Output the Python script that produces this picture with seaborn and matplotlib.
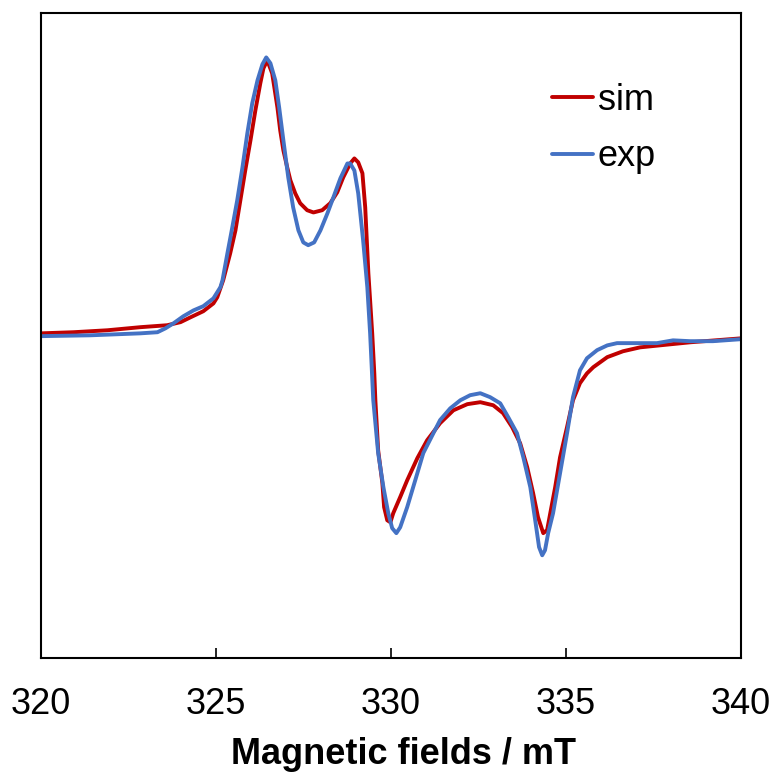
import numpy as np
import pandas as pd
import matplotlib
matplotlib.use("Agg")
import matplotlib.pyplot as plt
import seaborn as sns

# Simulated spectrum (field in mT, intensity in arbitrary units)
sim_field = [320.0, 320.93, 321.9, 322.84, 323.61, 323.99, 324.27, 324.64,
             324.93, 325.04, 325.21, 325.41, 325.56, 325.7, 325.84, 325.99,
             326.13, 326.27, 326.36, 326.47, 326.61, 326.76, 326.84, 326.93,
             327.04, 327.13, 327.27, 327.41, 327.61, 327.79, 328.04, 328.27,
             328.47, 328.64, 328.84, 328.96, 329.07, 329.19, 329.27, 329.36,
             329.41, 329.47, 329.53, 329.56, 329.64, 329.76, 329.81, 329.9,
             329.99, 330.07, 330.27, 330.47, 330.76, 331.04, 331.41, 331.79,
             332.19, 332.56, 332.93, 333.21, 333.47, 333.7, 333.9, 334.07,
             334.21, 334.36, 334.47, 334.56, 334.7, 334.84, 335.04, 335.21,
             335.41, 335.61, 335.79, 336.19, 336.64, 337.13, 338.56, 340.0]
sim_int = [0.014, 0.018, 0.025, 0.036, 0.043, 0.054, 0.071, 0.093,
           0.121, 0.143, 0.204, 0.300, 0.382, 0.489, 0.596, 0.704,
           0.811, 0.907, 0.961, 0.989, 0.943, 0.821, 0.739, 0.668,
           0.607, 0.561, 0.514, 0.479, 0.454, 0.446, 0.454, 0.479,
           0.518, 0.571, 0.621, 0.639, 0.625, 0.586, 0.464, 0.229,
           0.132, 0.014, -0.129, -0.225, -0.404, -0.521, -0.607, -0.654,
           -0.661, -0.629, -0.571, -0.511, -0.432, -0.368, -0.307, -0.261,
           -0.239, -0.232, -0.243, -0.271, -0.321, -0.379, -0.464, -0.557,
           -0.643, -0.700, -0.689, -0.629, -0.536, -0.429, -0.321, -0.225,
           -0.164, -0.129, -0.107, -0.071, -0.050, -0.036, -0.018, -0.004]

# Experimental spectrum
exp_field = [320.0, 321.41, 322.84, 323.33, 323.56, 323.79, 324.07, 324.36,
             324.64, 324.93, 325.13, 325.19, 325.33, 325.47, 325.61, 325.76,
             325.9, 326.04, 326.19, 326.33, 326.44, 326.56, 326.7, 326.81,
             326.93, 327.07, 327.21, 327.36, 327.5, 327.64, 327.81, 327.99,
             328.19, 328.36, 328.56, 328.76, 328.84, 328.96, 329.07, 329.21,
             329.33, 329.41, 329.5, 329.64, 329.79, 329.93, 330.04, 330.16,
             330.27, 330.47, 330.7, 330.93, 331.19, 331.41, 331.7, 331.99,
             332.27, 332.56, 332.84, 333.13, 333.36, 333.61, 333.79, 333.99,
             334.13, 334.24, 334.33, 334.41, 334.5, 334.64, 334.84, 335.04,
             335.21, 335.41, 335.61, 335.9, 336.19, 336.47, 336.93, 337.33,
             337.61, 338.07, 338.56, 339.21, 340.0]
exp_int = [0.004, 0.007, 0.014, 0.018, 0.032, 0.050, 0.075, 0.096,
           0.111, 0.139, 0.179, 0.204, 0.300, 0.393, 0.489, 0.607,
           0.729, 0.836, 0.918, 0.975, 1.000, 0.979, 0.918, 0.821,
           0.704, 0.571, 0.464, 0.382, 0.339, 0.329, 0.339, 0.382,
           0.443, 0.500, 0.568, 0.621, 0.621, 0.596, 0.514, 0.346,
           0.179, 0.014, -0.225, -0.414, -0.536, -0.629, -0.682, -0.700,
           -0.679, -0.607, -0.511, -0.414, -0.350, -0.296, -0.254, -0.225,
           -0.207, -0.200, -0.214, -0.236, -0.286, -0.343, -0.429, -0.536,
           -0.654, -0.750, -0.779, -0.761, -0.700, -0.629, -0.486, -0.343,
           -0.214, -0.118, -0.075, -0.046, -0.029, -0.021, -0.021, -0.021,
           -0.021, -0.011, -0.014, -0.014, -0.007]

df = pd.concat([
    pd.DataFrame({"field": sim_field, "intensity": sim_int, "series": "sim"}),
    pd.DataFrame({"field": exp_field, "intensity": exp_int, "series": "exp"}),
])

sns.set_theme(style="white")
plt.rcParams["font.family"] = ["Liberation Sans", "DejaVu Sans"]

fig = plt.figure(figsize=(7.76, 7.74), dpi=100)
ax = fig.add_axes([0.0528, 0.1499, 0.9015, 0.8327])

sns.lineplot(data=df, x="field", y="intensity", hue="series",
             palette={"sim": "#C00000", "exp": "#4472C4"},
             estimator=None, sort=False, linewidth=2.8, ax=ax, legend=False)

ax.set_xlim(320, 340)
ax.set_ylim(-1.146, 1.157)
ax.set_xticks([320, 325, 330, 335, 340])
ax.set_yticks([])
ax.tick_params(axis="x", bottom=True, direction="in", length=7.5, width=1.2,
               labelsize=26, pad=21, colors="black", labelcolor="black")
for sp in ax.spines.values():
    sp.set_color("black")
    sp.set_linewidth(1.5)

ax.set_xlabel("Magnetic fields / mT", fontsize=26, fontweight="bold",
              labelpad=11, color="black")
ax.xaxis.label.set_x(0.518)
ax.set_ylabel("")

handles = [plt.Line2D([], [], color="#C00000", lw=2.8),
           plt.Line2D([], [], color="#4472C4", lw=2.8)]
ax.legend(handles, ["sim", "exp"], loc="upper left",
          bbox_to_anchor=(0.711, 0.893), bbox_transform=fig.transFigure,
          frameon=False, fontsize=26, handlelength=1.15, handletextpad=0.12,
          labelspacing=0.6, borderpad=0, borderaxespad=0, labelcolor="black")

fig.savefig("out.png", dpi=100)
